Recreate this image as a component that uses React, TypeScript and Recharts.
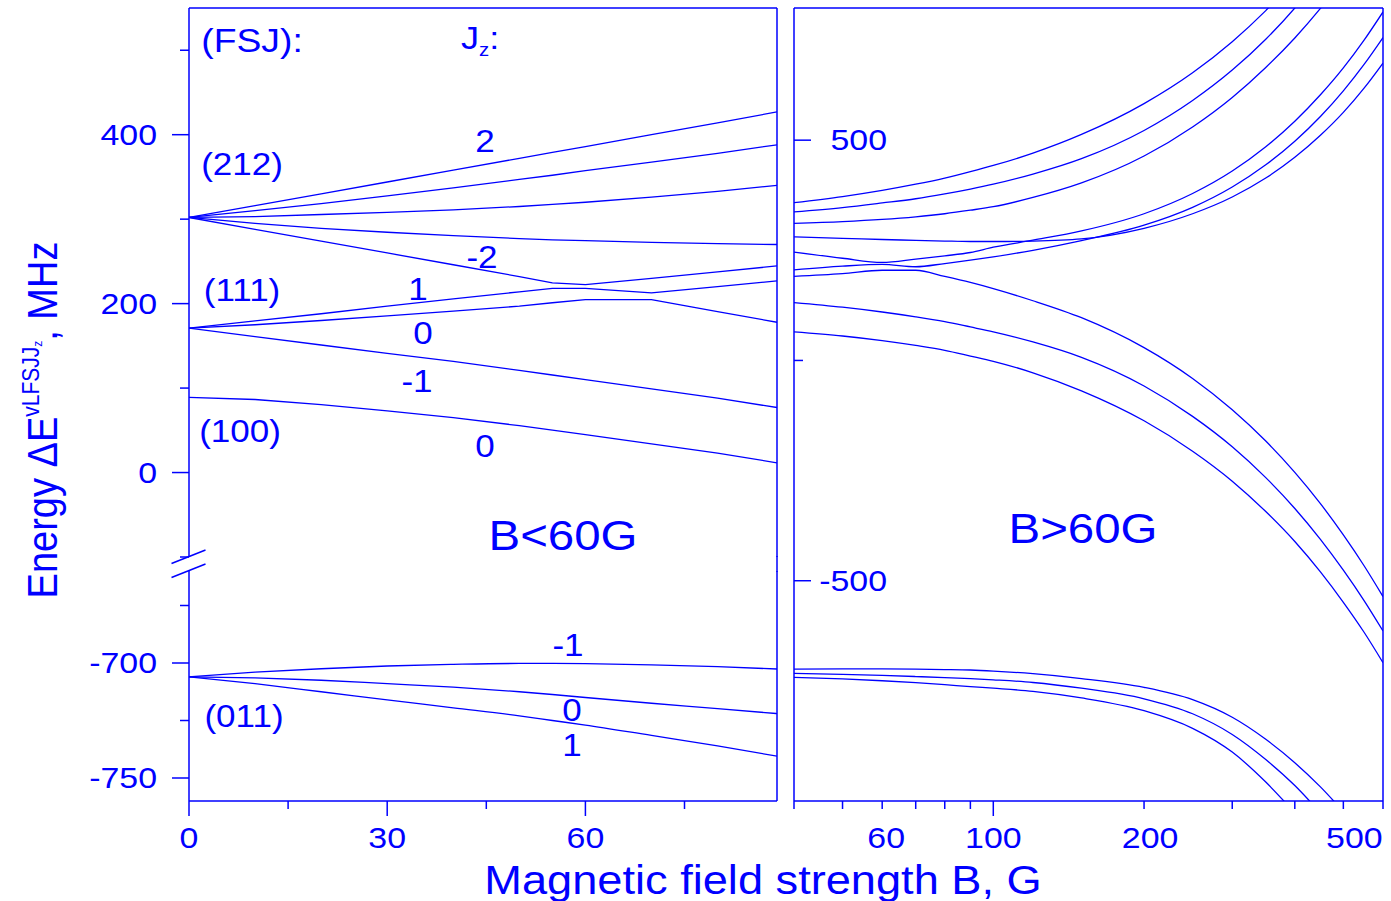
import React from 'react';
import { LineChart, Line, XAxis, YAxis } from 'recharts';

const BLUE = '#0000ff';
const FONT = '"Liberation Sans", Arial, Helvetica, sans-serif';
const SX = 1.13;

// ---------- Left panel (B < 60 G), linear field axis ----------
const leftB = [0, 10, 20, 30, 40, 50, 55, 60, 70, 80, 89];
const left212Jz2 = [302, 316, 330, 344, 358, 372, 379, 386, 400, 414, 427];
const left212Jz1 = [302, 310, 318.5, 327.5, 337, 347, 352, 357.5, 367.5, 378, 388];
const left212Jz0 = [302, 303, 305.5, 308, 311, 315, 317.5, 320, 326, 333, 340];
const left212JzM1 = [302, 295, 289, 284.5, 280.5, 277, 275.5, 274.5, 272.5, 271, 270];
const left212JzM2 = [302, 288, 274, 260, 246, 232, 224.5, 222.5, 230, 237.5, 244.6];
const left111Jz1 = [171, 179.5, 188, 197, 205.5, 214, 218, 218, 212.7, 220, 226.9];
const left111Jz0 = [171, 175, 180, 185.5, 191, 197, 201, 204.7, 204.7, 190.6, 177.9];
const left111JzM1 = [171, 161, 151, 141, 131.5, 121, 115.5, 110, 99, 88, 77];
const left100Jz0 = [89, 86.5, 80.5, 73, 65, 55.5, 50.3, 45, 34, 23, 11.5];
const left011JzM1 = [-706, -704, -702.5, -701.3, -700.6, -700.2, -700.2, -700.3, -700.8, -701.6, -702.6];
const left011Jz0 = [-706, -706.5, -707.5, -709, -710.5, -712.5, -713.7, -715, -717.5, -719.8, -722];
const left011Jz1 = [-706, -709, -712.5, -716, -719.5, -723, -725, -727, -731.5, -736, -740.5];

// ---------- Right panel (B > 60 G), log field axis ----------
const rightB = [40, 50, 60, 70, 80, 90, 100, 120, 150, 200, 250, 300, 350, 400, 450, 500, 550, 600];
const rightA = [358, 372, 386, 400, 414, 428.5, 442.5, 470.6, 513, 583, 653, 723.5, 794, 864, null, null, null, null];
const rightB2 = [337, 347, 357.5, 367, 378, 389, 400, 423, 458, 522, 590, 659, 729, 800, 872, null, null, null];
const rightC = [311, 315, 320, 326, 333, 341, 349, 370, 403, 464, 530, 597, 665, 732, 799, 866, null, null];
const rightD = [280.5, 277, 274.5, 272.5, 271, 270, 270, 271, 276, 300, 333, 371, 414, 461, 511, 563, 618, 675];
const rightE = [246, 232, 222.5, 230, 237.5, 245, 257, 273, 294, 333, 379, 430, 485, 543, 603, 664, 727, 791];
const rightF = [205.5, 214, 218, 212.7, 220, 227.5, 235, 250, 272, 307, 347.5, 393.6, 444, 497.5, 553.7, 612, 672, 733];
const rightG = [191, 197, 204.7, 204.7, 190.6, 177, 163, 135.5, 97, 29, -41, -112, -183, -254, -325, -396, -466, -536];
const rightH = [131.5, 121, 110, 99, 88, 76, 65, 42, 7, -58, -127, -196, -266, -336, -406, -476, -545, -614];
const rightI = [65, 55.5, 45, 34, 23, 10, -2, -28, -69, -137, -206, -274, -343, -411, -480, -549, -617, -686];
const rightZm1 = [-700.6, -700.2, -700.3, -700.8, -701.6, -702.7, -705, -711, -722, -742, -770, -810, -860, -913, -968, -1024, null, null];
const rightZ0 = [-710.5, -712.5, -715, -717.5, -719.8, -722.2, -725, -731, -744, -768, -802, -849, -906, -965, -1027, null, null, null];
const rightZ1 = [-719.5, -723, -727, -731.5, -736, -740.5, -744, -751, -766, -795, -835, -889, -957, -1027, null, null, null, null];

// ---------- Ticks ----------
const upperYTicks = [-100, 0, 100, 200, 300, 400, 500];
const upperYLabels = [0, 200, 400];
const lowerYTicks = [-750, -725, -700, -675];
const lowerYLabels = [-750, -700];
const leftXTicks = [0, 15, 30, 45, 60, 75];
const leftXLabels = [0, 30, 60];
const rightXTicks = [40, 50, 60, 70, 80, 90, 100, 200, 300, 400, 500, 600];
const rightXLabels = [60, 100, 200, 500];
const rightXLong = [100];
const rightYTicks = [-500, 0, 500];
const rightYLabels = [-500, 500];

// small horizontal nudges of the log-axis labels, as printed in the original
const rightXLabelNudge: Record<number, number> = { 60: 4, 100: 0, 200: 6, 500: 11 };

const upperKeys = ['j2', 'j1', 'j0', 'jm1', 'jm2', 'p1', 'p0', 'pm1', 'q0'];
const upperSeries = [left212Jz2, left212Jz1, left212Jz0, left212JzM1, left212JzM2, left111Jz1, left111Jz0, left111JzM1, left100Jz0];
const upperRows = leftB.map((b, i) => {
  const r: any = { b };
  upperKeys.forEach((k, j) => (r[k] = upperSeries[j][i]));
  return r;
});

const lowerKeys = ['zm1', 'z0', 'z1'];
const lowerSeries = [left011JzM1, left011Jz0, left011Jz1];
const lowerRows = leftB.map((b, i) => {
  const r: any = { b };
  lowerKeys.forEach((k, j) => (r[k] = lowerSeries[j][i]));
  return r;
});

const rightKeys = ['a', 'b2', 'c', 'd', 'e', 'f', 'g', 'h', 'i', 'zm1', 'z0', 'z1'];
const rightSeries = [rightA, rightB2, rightC, rightD, rightE, rightF, rightG, rightH, rightI, rightZm1, rightZ0, rightZ1];
const rightRows = rightB.map((b, i) => {
  const r: any = { b };
  rightKeys.forEach((k, j) => (r[k] = rightSeries[j][i]));
  return r;
});

const txtStyle = { fontFamily: FONT, fill: BLUE } as const;

const Txt = ({ x, y, size = 31, anchor = 'middle', children }: any) => (
  <text
    transform={`translate(${x},${y}) scale(${SX},1)`}
    textAnchor={anchor}
    dominantBaseline="central"
    fontSize={size}
    style={txtStyle}
  >
    {children}
  </text>
);

const makeLeftYTick = (labels: number[]) => (props: any) => {
  const { x, y, payload } = props;
  const major = labels.includes(payload.value);
  return (
    <g>
      <line x1={x - (major ? 17 : 9)} x2={x} y1={y} y2={y} stroke={BLUE} strokeWidth={1.5} />
      {major && <Txt x={x - 32} y={y} size={30} anchor="end">{payload.value}</Txt>}
    </g>
  );
};

const makeBottomTick = (labels: number[], long: number[], nudge: Record<number, number>) => (props: any) => {
  const { x, y, payload } = props;
  const isLong = long.includes(payload.value);
  return (
    <g>
      <line x1={x} x2={x} y1={y} y2={y + (isLong ? 15 : 8)} stroke={BLUE} strokeWidth={1.5} />
      {labels.includes(payload.value) && (
        <Txt x={x + (nudge[payload.value] || 0)} y={y + 37} size={30}>
          {payload.value}
        </Txt>
      )}
    </g>
  );
};

const rightYTick = (props: any) => {
  const { x, y, payload } = props;
  const major = rightYLabels.includes(payload.value);
  return (
    <g>
      <line x1={x} x2={x + (major ? 17 : 9)} y1={y} y2={y} stroke={BLUE} strokeWidth={1.5} />
      {major && <Txt x={x + 93} y={y} size={30} anchor="end">{payload.value}</Txt>}
    </g>
  );
};

const lineProps = {
  stroke: BLUE,
  strokeWidth: 1.3,
  dot: false,
  activeDot: false,
  isAnimationActive: false,
  connectNulls: false,
};

const axisLine = { stroke: BLUE, strokeWidth: 1.5 };

export default function App() {
  return (
    <div style={{ position: 'absolute', left: 0, top: 0, width: 1391, height: 901, background: '#fff', overflow: 'hidden' }}>
      {/* Upper part of the left panel */}
      <div style={{ position: 'absolute', left: 0, top: 0 }}>
        <LineChart width={800} height={560} data={upperRows} margin={{ top: 7, right: 22, bottom: 3, left: 0 }}>
          <XAxis dataKey="b" type="number" domain={[0, 89]} orientation="top" height={1} tick={false} tickLine={false} axisLine={axisLine} allowDataOverflow />
          <YAxis
            type="number"
            domain={[-100, 550]}
            allowDataOverflow
            width={189}
            ticks={upperYTicks}
            interval={0}
            tickSize={0}
            tickMargin={0}
            tickLine={false}
            axisLine={axisLine}
            tick={makeLeftYTick(upperYLabels)}
          />
          <YAxis yAxisId="border" orientation="right" width={1} domain={[0, 1]} tick={false} tickLine={false} axisLine={axisLine} />
          {upperKeys.map((k) => (
            <Line key={k} type="linear" dataKey={k} name={k} {...lineProps} />
          ))}
        </LineChart>
      </div>

      {/* Lower part of the left panel */}
      <div style={{ position: 'absolute', left: 0, top: 563 }}>
        <LineChart width={800} height={298} data={lowerRows} margin={{ top: 8, right: 22, bottom: 0, left: 0 }}>
          <XAxis
            dataKey="b"
            type="number"
            domain={[0, 89]}
            allowDataOverflow
            height={60}
            ticks={leftXTicks}
            interval={0}
            tickSize={0}
            tickMargin={0}
            tickLine={false}
            axisLine={axisLine}
            tick={makeBottomTick(leftXLabels, leftXLabels, {})}
          />
          <YAxis
            type="number"
            domain={[-760, -660]}
            allowDataOverflow
            width={189}
            ticks={lowerYTicks}
            interval={0}
            tickSize={0}
            tickMargin={0}
            tickLine={false}
            axisLine={axisLine}
            tick={makeLeftYTick(lowerYLabels)}
          />
          <YAxis yAxisId="border" orientation="right" width={1} domain={[0, 1]} tick={false} tickLine={false} axisLine={axisLine} />
          {lowerKeys.map((k) => (
            <Line key={k} type="monotone" dataKey={k} name={k} {...lineProps} />
          ))}
        </LineChart>
      </div>

      {/* Right panel */}
      <div style={{ position: 'absolute', left: 780, top: 0 }}>
        <LineChart width={611} height={861} data={rightRows} margin={{ top: 7, right: 7, bottom: 0, left: 13 }}>
          <XAxis xAxisId="top" type="number" domain={[0, 1]} orientation="top" height={1} tick={false} tickLine={false} axisLine={axisLine} />
          <XAxis
            xAxisId="main"
            dataKey="b"
            type="number"
            scale="log"
            domain={[40, 600]}
            allowDataOverflow
            height={60}
            ticks={rightXTicks}
            interval={0}
            tickSize={0}
            tickMargin={0}
            tickLine={false}
            axisLine={axisLine}
            tick={makeBottomTick(rightXLabels, rightXLong, rightXLabelNudge)}
          />
          <YAxis
            type="number"
            domain={[-1000, 800]}
            allowDataOverflow
            width={1}
            ticks={rightYTicks}
            interval={0}
            tickSize={0}
            tickMargin={0}
            tickLine={false}
            axisLine={axisLine}
            tick={rightYTick}
          />
          <YAxis yAxisId="border" orientation="right" width={1} domain={[0, 1]} tick={false} tickLine={false} axisLine={axisLine} />
          {rightKeys.map((k) => (
            <Line key={k} type="monotone" xAxisId="main" dataKey={k} name={k} {...lineProps} />
          ))}
        </LineChart>
      </div>

      {/* Annotations, axis break and titles */}
      <svg width={1391} height={901} style={{ position: 'absolute', left: 0, top: 0, pointerEvents: 'none' }}>
        <line x1={777} x2={777} y1={556} y2={572} stroke={BLUE} strokeWidth={1.5} />
        <line x1={171.5} y1={563.5} x2={205.5} y2={550} stroke={BLUE} strokeWidth={1.5} />
        <line x1={171.5} y1={577.5} x2={205.5} y2={564} stroke={BLUE} strokeWidth={1.5} />

        <Txt x={252} y={40} size={33}>(FSJ):</Txt>
        <text transform={`translate(461,49) scale(${SX},1)`} fontSize={32} style={txtStyle}>
          J<tspan fontSize={18} dy={7}>z</tspan>
          <tspan dy={-7}>:</tspan>
        </text>
        <Txt x={242} y={164}>(212)</Txt>
        <Txt x={485} y={141}>2</Txt>
        <Txt x={482} y={257}>-2</Txt>
        <Txt x={242} y={290}>(111)</Txt>
        <Txt x={418} y={289}>1</Txt>
        <Txt x={423} y={333}>0</Txt>
        <Txt x={417} y={381}>-1</Txt>
        <Txt x={240} y={431}>(100)</Txt>
        <Txt x={485} y={446}>0</Txt>
        <Txt x={563} y={535} size={42}>B&lt;60G</Txt>
        <Txt x={1083} y={528} size={42}>B&gt;60G</Txt>
        <Txt x={568} y={645}>-1</Txt>
        <Txt x={572} y={710}>0</Txt>
        <Txt x={572} y={745}>1</Txt>
        <Txt x={244} y={716}>(011)</Txt>

        <Txt x={763} y={880} size={40}>Magnetic field strength B, G</Txt>
        <text
          transform={`translate(57,420) scale(${SX},1) rotate(-90)`}
          textAnchor="middle"
          fontSize={38}
          style={txtStyle}
        >
          Energy ΔE
          <tspan fontSize={21} dy={-16}>vLFSJJ</tspan>
          <tspan fontSize={12} dy={3}>z</tspan>
          <tspan dy={13}>, MHz</tspan>
        </text>
      </svg>
    </div>
  );
}
